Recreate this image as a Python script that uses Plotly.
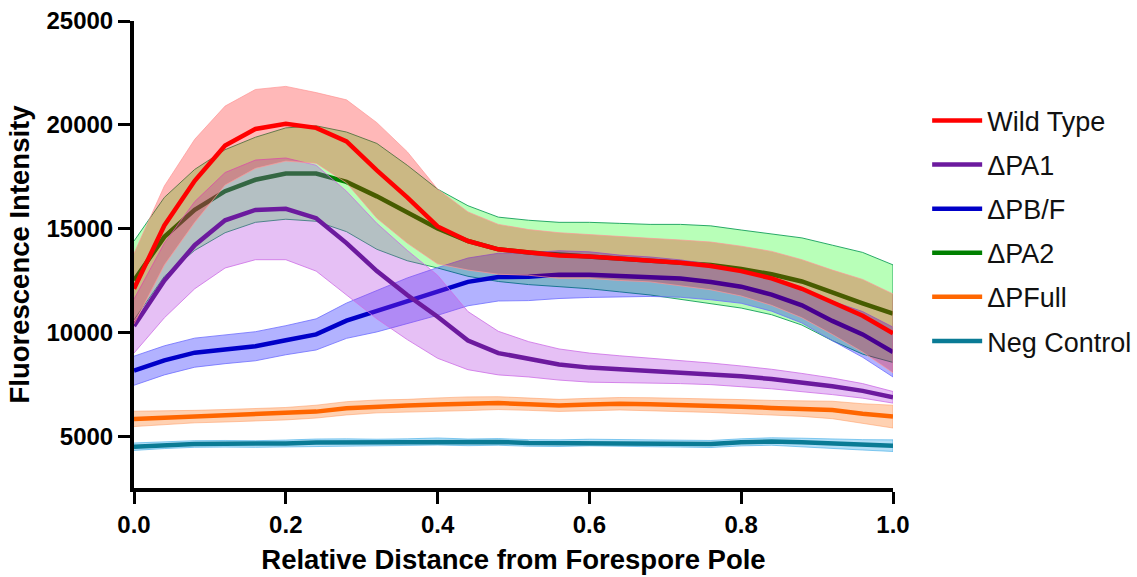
import plotly.graph_objects as go

positions = [0.00, 0.04, 0.08, 0.12, 0.16, 0.20, 0.24, 0.28, 0.32, 0.36, 0.40, 0.44, 0.48,
             0.52, 0.56, 0.60, 0.64, 0.68, 0.72, 0.76, 0.80, 0.84, 0.88, 0.92, 0.96, 1.00]

x_ticks = [0.0, 0.2, 0.4, 0.6, 0.8, 1.0]
x_tick_labels = ["0.0", "0.2", "0.4", "0.6", "0.8", "1.0"]
y_ticks = [5000, 10000, 15000, 20000, 25000]
y_tick_labels = ["5000", "10000", "15000", "20000", "25000"]

wt_mean = [12100, 15150, 17300, 19000, 19800, 20050, 19850, 19200, 17800, 16500, 15100, 14400, 14000,
           13850, 13700, 13650, 13550, 13480, 13350, 13200, 12950, 12600, 12100, 11450, 10800, 9950]
wt_sd = [1700, 1900, 2000, 1900, 1900, 1800, 1700, 2000, 2300, 2200, 1800, 1400, 1200,
         1100, 1100, 1050, 1050, 1050, 1100, 1150, 1200, 1300, 1400, 1550, 1750, 1900]

pa1_mean = [10300, 12500, 14200, 15400, 15900, 15950, 15500, 14300, 12950, 11800, 10750, 9600, 9000,
            8700, 8450, 8300, 8220, 8160, 8080, 8000, 7880, 7750, 7580, 7400, 7180, 6870]
pa1_sd = [1300, 1800, 2100, 2300, 2400, 2450, 2550, 2500, 2300, 2150, 2000, 1400, 1050,
          850, 750, 700, 650, 600, 550, 520, 500, 470, 440, 400, 350, 280]

pbf_mean = [8150, 8650, 9020, 9190, 9330, 9620, 9900, 10560, 11020, 11520, 11970, 12430, 12660,
            12680, 12780, 12780, 12720, 12680, 12590, 12420, 12200, 11820, 11300, 10550, 9900, 9050]
pbf_sd = [700, 700, 700, 700, 700, 700, 750, 850, 1000, 1100, 1150, 1150, 1150,
          1150, 1150, 1100, 1000, 950, 900, 850, 800, 800, 850, 950, 1100, 1200]

pa2_mean = [12500, 14600, 15900, 16800, 17350, 17650, 17650, 17250, 16550, 15750, 15000, 14400, 14000,
            13850, 13750, 13700, 13600, 13500, 13400, 13250, 13050, 12800, 12450, 11900, 11400, 10900]
pa2_sd = [1900, 1900, 1950, 2000, 2050, 2200, 2300, 2400, 2550, 2300, 1900, 1700, 1550,
          1550, 1550, 1600, 1650, 1700, 1800, 1880, 1880, 1950, 2100, 2300, 2450, 2350]

pfull_mean = [5830, 5880, 5940, 5980, 6030, 6080, 6180, 6340, 6430, 6470, 6520, 6560, 6590,
              6540, 6480, 6520, 6560, 6540, 6510, 6470, 6420, 6360, 6330, 6260, 6080, 5940]
pfull_sd = [370, 330, 300, 300, 310, 300, 310, 320, 310, 300, 320, 330, 310,
            300, 290, 300, 300, 310, 320, 330, 340, 360, 380, 420, 480, 550]

neg_mean = [4490, 4570, 4620, 4630, 4620, 4650, 4690, 4700, 4690, 4710, 4740, 4700, 4720,
            4670, 4660, 4690, 4680, 4650, 4640, 4620, 4700, 4740, 4700, 4630, 4580, 4540]
neg_sd = [180, 170, 160, 160, 160, 160, 170, 170, 160, 160, 170, 160, 160,
          160, 160, 160, 160, 160, 170, 170, 170, 180, 200, 220, 250, 280]

# name, mean, sd, line colour, fill colour, edge colour, legend rank
series = [
    ("Neg Control", neg_mean, neg_sd, "#0A7B95", "rgba(0,150,230,0.30)", "rgba(60,170,230,0.6)", 6),
    ("ΔPFull", pfull_mean, pfull_sd, "#FF6600", "rgba(255,102,0,0.30)", "rgba(255,150,90,0.5)", 5),
    ("ΔPA2", pa2_mean, pa2_sd, "#008000", "rgba(0,255,0,0.28)", "rgba(20,160,90,0.9)", 4),
    ("ΔPB/F", pbf_mean, pbf_sd, "#0000C8", "rgba(0,0,255,0.30)", "rgba(110,110,255,0.8)", 3),
    ("ΔPA1", pa1_mean, pa1_sd, "#6C1A9E", "rgba(172,45,222,0.30)", "rgba(205,110,230,0.8)", 2),
    ("Wild Type", wt_mean, wt_sd, "#FF0000", "rgba(255,0,0,0.28)", "rgba(255,150,150,0.7)", 1),
]

fig = go.Figure()
for name, mean, sd, lc, fc, ec, rank in series:
    upper = [m + s for m, s in zip(mean, sd)]
    lower = [m - s for m, s in zip(mean, sd)]
    fig.add_trace(go.Scatter(
        x=positions + positions[::-1], y=upper + lower[::-1],
        fill="toself", fillcolor=fc, mode="lines",
        line=dict(color=ec, width=1), showlegend=False, hoverinfo="skip"))
    fig.add_trace(go.Scatter(
        x=positions, y=mean, mode="lines", name=name,
        line=dict(color=lc, width=4.5), legendrank=rank, legendgroup=name))

tick_font = dict(family="Liberation Sans, Arial", size=24, color="black")
title_font = dict(family="Liberation Sans, Arial", size=27.5, color="black")

fig.update_layout(
    width=1137, height=577,
    margin=dict(l=134, r=244, t=21, b=89, autoexpand=False),
    plot_bgcolor="white", paper_bgcolor="white",
    font=dict(family="Liberation Sans, Arial", color="black"),
    legend=dict(x=1.045, y=0.8385, xanchor="left", yanchor="top",
                font=dict(family="Liberation Sans, Arial", size=27, color="#111111"),
                tracegroupgap=6, itemwidth=50, bgcolor="rgba(0,0,0,0)"),
    xaxis=dict(range=[0, 1.0], tickmode="array", tickvals=x_ticks,
               ticktext=["<b>%s</b>" % t for t in x_tick_labels],
               showgrid=False, zeroline=False, showline=True, linecolor="black", linewidth=4,
               ticks="outside", ticklen=12, tickwidth=3, tickcolor="black",
               tickfont=tick_font, automargin=False,
               title=dict(text="<b>Relative Distance from Forespore Pole</b>", font=title_font, standoff=14)),
    yaxis=dict(range=[2500, 25000], tickmode="array", tickvals=y_ticks,
               ticktext=["<b>%s</b>" % t for t in y_tick_labels],
               showgrid=False, zeroline=False, showline=True, linecolor="black", linewidth=4,
               ticks="outside", ticklen=12, tickwidth=3, tickcolor="black",
               tickfont=tick_font, automargin=False,
               title=dict(text="<b>Fluorescence Intensity</b>", font=title_font, standoff=10)),
)

fig.write_html("out.html")
